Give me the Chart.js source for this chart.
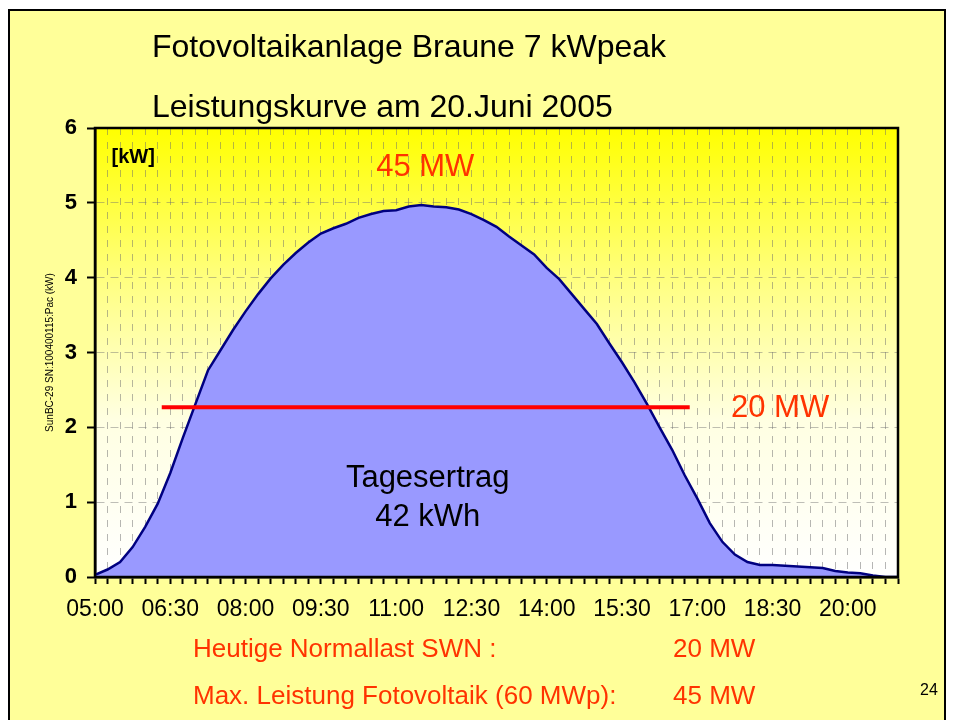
<!DOCTYPE html>
<html lang="de">
<head>
<meta charset="utf-8">
<title>Fotovoltaikanlage Braune 7 kWpeak</title>
<script src="https://cdn.jsdelivr.net/npm/chart.js@4.4.0/dist/chart.umd.min.js"></script>
<style>
  html, body { margin: 0; padding: 0; background: #fff; }
  body { width: 954px; height: 720px; position: relative; overflow: hidden;
         font-family: "Liberation Sans", Arial, sans-serif; }
  .slide { position: absolute; left: 8px; top: 9px; width: 938px; height: 720px;
           background: #ffff99; border: 2px solid #000; border-bottom: none; box-sizing: border-box; }
  #chart { position: absolute; left: 0; top: 0; }
  .txt { position: absolute; white-space: nowrap; line-height: 1; }
  .title { font-size: 32px; color: #000; left: 152px; }
  .note { font-size: 26px; color: #ff3300; }
</style>
</head>
<body>
<div class="slide"></div>
<canvas id="chart" width="954" height="720"></canvas>

<div class="txt title" style="top:30px">Fotovoltaikanlage Braune 7 kWpeak</div>
<div class="txt title" style="top:90px">Leistungskurve am 20.Juni 2005</div>
<div class="txt note" style="left:193px; top:635px">Heutige Normallast SWN :</div>
<div class="txt note" style="left:673px; top:635px">20 MW</div>
<div class="txt note" style="left:193px; top:682px">Max. Leistung Fotovoltaik (60 MWp):</div>
<div class="txt note" style="left:673px; top:682px">45 MW</div>
<div class="txt" style="left:920px; top:682px; font-size:16px">24</div>

<script>
// Zeitachse: 05:00 bis 21:00 in 15-Minuten-Schritten (Stunden als Zahl)
const startHour = 5;
const endHour = 21;
const stepHours = 0.25;
const tickLabels = ['05:00', '06:30', '08:00', '09:30', '11:00', '12:30', '14:00', '15:30', '17:00', '18:30', '20:00'];

// Leistung Pac in kW, ein Wert je 15 Minuten ab 05:00
const pacValues = [
  0.03, 0.10, 0.20, 0.40, 0.67, 0.98, 1.39, 1.86, 2.31, 2.76,
  3.03, 3.30, 3.55, 3.78, 3.99, 4.17, 4.33, 4.47, 4.59, 4.66,
  4.72, 4.80, 4.85, 4.89, 4.90, 4.95, 4.97, 4.95, 4.94, 4.91,
  4.85, 4.77, 4.68, 4.55, 4.43, 4.31, 4.13, 3.98, 3.78, 3.58,
  3.38, 3.12, 2.87, 2.60, 2.31, 2.00, 1.70, 1.36, 1.05, 0.72,
  0.47, 0.30, 0.20, 0.16, 0.16, 0.15, 0.14, 0.13, 0.12, 0.08,
  0.06, 0.05, 0.02, 0.00, 0.00
];

// rote Linie: Normallast 20 MW (Start/Ende in Stunden, Höhe in kW)
const loadLineHours = [6.33, 16.85];
const loadLineLevel = 2.27;

// Beschriftungen im Diagramm: [Text, Stunde, kW, Schrift, Farbe]
const chartNotes = [
  ['[kW]', 5.76, 5.61, 'bold 20px "Liberation Sans"', '#000'],
  ['45 MW', 11.58, 5.47, '31px "Liberation Sans"', '#ff3300'],
  ['20 MW', 18.65, 2.25, '31px "Liberation Sans"', '#ff3300'],
  ['Tagesertrag', 11.63, 1.32, '31px "Liberation Sans"', '#000'],
  ['42 kWh', 11.63, 0.80, '31px "Liberation Sans"', '#000']
];

const pacPoints = pacValues.map((v, i) => ({ x: startHour + i * stepHours, y: v }));
const loadPoints = loadLineHours.map(h => ({ x: h, y: loadLineLevel }));

// Hintergrund-Verlauf, Rahmen und Texte im Plotbereich
const slidePlugin = {
  id: 'slide',
  beforeDraw(chart) {
    const { ctx, chartArea: a } = chart;
    const g = ctx.createLinearGradient(0, a.top, 0, a.bottom);
    g.addColorStop(0, '#ffff00');
    g.addColorStop(0.35, '#ffff84');
    g.addColorStop(0.65, '#ffffe2');
    g.addColorStop(1, '#ffffff');
    ctx.save();
    ctx.fillStyle = g;
    ctx.fillRect(a.left, a.top, a.right - a.left, a.bottom - a.top);
    ctx.restore();
  },
  afterDraw(chart) {
    const { ctx, chartArea: a, scales } = chart;
    ctx.save();
    ctx.strokeStyle = '#000';
    ctx.lineWidth = 2.5;
    ctx.strokeRect(a.left, a.top, a.right - a.left, a.bottom - a.top);
    ctx.textAlign = 'center';
    ctx.textBaseline = 'middle';
    chartNotes.forEach(([text, h, kw, font, color]) => {
      ctx.font = font;
      ctx.fillStyle = color;
      ctx.fillText(text, scales.x.getPixelForValue(h), scales.y.getPixelForValue(kw));
    });
    ctx.restore();
  }
};

new Chart(document.getElementById('chart'), {
  type: 'line',
  data: {
    datasets: [
      {
        data: loadPoints,
        borderColor: '#ff0000',
        borderWidth: 4,
        pointRadius: 0,
        fill: false,
        order: 0
      },
      {
        data: pacPoints,
        borderColor: '#000080',
        borderWidth: 2.5,
        backgroundColor: '#9999ff',
        pointRadius: 0,
        fill: 'origin',
        tension: 0,
        order: 1
      }
    ]
  },
  options: {
    responsive: false,
    animation: false,
    devicePixelRatio: 1,
    layout: { padding: { left: 40, top: 128, right: 56, bottom: 0 } },
    plugins: { legend: { display: false }, tooltip: { enabled: false } },
    scales: {
      x: {
        type: 'linear',
        min: startHour,
        max: endHour,
        afterFit: s => { s.height = 143; },
        ticks: {
          stepSize: stepHours,
          maxTicksLimit: 100,
          autoSkip: false,
          maxRotation: 0,
          padding: 12,
          color: '#000',
          font: { family: 'Liberation Sans', size: 23 },
          callback: v => {
            const k = (v - startHour) / 1.5;
            return Number.isInteger(k) && tickLabels[k] ? tickLabels[k] : '';
          }
        },
        grid: { color: 'rgba(110,110,110,0.5)', lineWidth: 1, tickColor: '#000', tickWidth: 2, tickLength: 7 },
        border: { color: '#000', width: 2.5, dash: [7, 7] }
      },
      y: {
        min: 0,
        max: 6,
        afterFit: s => { s.width = 55; },
        ticks: {
          stepSize: 1,
          padding: 10,
          color: '#000',
          font: { family: 'Liberation Sans', size: 22, weight: 'bold' }
        },
        grid: { color: 'rgba(110,110,110,0.45)', lineWidth: 1, tickColor: '#000', tickWidth: 2, tickLength: 8 },
        border: { color: '#000', width: 2.5, dash: [8, 6] },
        title: {
          display: true,
          text: 'SunBC-29 SN:100400115:Pac (kW)',
          color: '#000',
          padding: { top: 4, bottom: 0 },
          font: { family: 'Liberation Sans', size: 10 }
        }
      }
    }
  },
  plugins: [slidePlugin]
});
</script>
</body>
</html>
